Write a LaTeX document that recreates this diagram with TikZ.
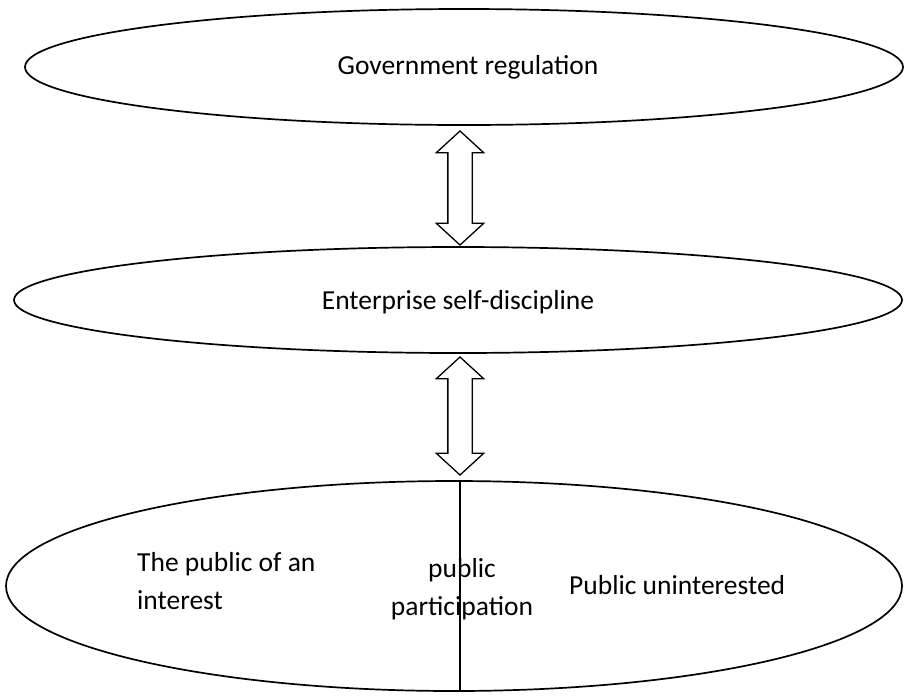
\documentclass[tikz,border=0pt]{standalone}
\usepackage{fontspec}
\setmainfont{Carlito}
\usetikzlibrary{shapes.geometric,shapes.arrows,positioning}

\tikzset{
    level/.style={draw, ellipse, line width=1.7pt, inner sep=0pt},
    blockarrow/.style={draw, double arrow, line width=1.3pt, rotate=90,
        inner xsep=0pt, inner ysep=11.5pt, minimum width=46pt,
        double arrow head extend=11.5pt, double arrow tip angle=95},
    label/.style={inner sep=0pt, font=\fontsize{27.5}{38}\selectfont},
}

\begin{document}
\begin{tikzpicture}[x=1pt, y=-1pt]
    \useasboundingbox (0,0) rectangle (905,697);
    % the three levels
    \node[level, minimum width=878pt, minimum height=116pt] (gov) at (464,67) {};
    \node[level, minimum width=888pt, minimum height=106pt] (ent) at (458,300) {};
    \node[level, minimum width=896pt, minimum height=210pt] (pub) at (454,586) {};
    % labels
    \node[label] (govtext) at (468,67) {Government regulation};
    \node[label] (enttext) at (458,302) {Enterprise self-discipline};
    \node[label, align=left, anchor=west] (interest) at (137,581) {The public of an\\interest};
    \node[label, align=center] (particip) at (462,589) {public\\participation};
    \node[label, anchor=west] (uninterest) at (569,585) {Public uninterested};
    % arrows between levels
    \node[blockarrow, minimum height=114pt] (arr1) at (460,188) {};
    \node[blockarrow, minimum height=118pt] (arr2) at (460,416) {};
    % divider
    \draw[line width=1.1pt] (pub.north -| arr2) -- (pub.south -| arr2);
\end{tikzpicture}
\end{document}
